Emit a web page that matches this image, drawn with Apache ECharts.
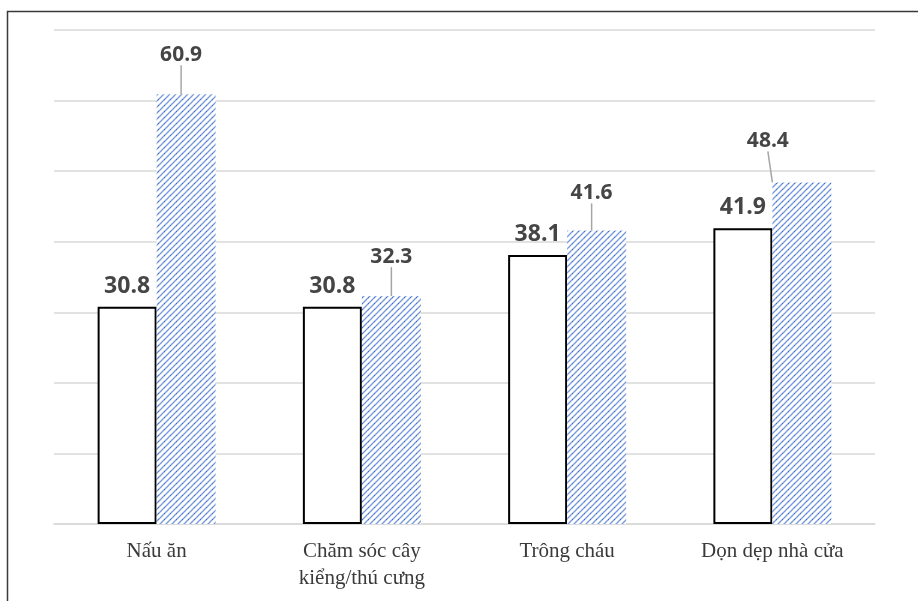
<!DOCTYPE html>
<html>
<head>
<meta charset="utf-8">
<script src="https://cdn.jsdelivr.net/npm/echarts@6/dist/echarts.min.js"></script>
<style>
    html, body { margin: 0; padding: 0; background: #fff; }
    #chart { width: 918px; height: 601px; }
</style>
</head>
<body>
<div id="chart"></div>
<script>
// du lieu
const categories = ['Nấu ăn', 'Chăm sóc cây\nkiểng/thú cưng', 'Trông cháu', 'Dọn dẹp nhà cửa']
const plainValues = [30.8, 30.8, 38.1, 41.9]
const hatchValues = [60.9, 32.3, 41.6, 48.4]

// vi tri nhan bi day ra khoi cot (giong Excel)
const hatchLabelDx = [-5, 0, -5, -34]
const hatchLabelDy = [-24, -24, -22, -26]

// tao mau gach cheo (net cham nhe)
function makeHatch() {
    const c = document.createElement('canvas')
    c.width = 6
    c.height = 6
    const ctx = c.getContext('2d')
    ctx.fillStyle = '#ffffff'
    ctx.fillRect(0, 0, 6, 6)
    ctx.strokeStyle = '#7599da'
    ctx.lineWidth = 1.3
    ctx.beginPath()
    ctx.moveTo(-1, 7)
    ctx.lineTo(7, -1)
    ctx.moveTo(-1, 1)
    ctx.lineTo(1, -1)
    ctx.moveTo(5, 7)
    ctx.lineTo(7, 5)
    ctx.stroke()
    // vai cham dam hon
    ctx.fillStyle = '#3f6fc6'
    ctx.fillRect(2, 3, 1, 1)
    return c
}

const chart = echarts.init(document.getElementById('chart'))
chart.setOption({
    animation: false,
    grid: {
        left: 54,
        right: 43,
        top: 30,
        bottom: 77
    },
    graphic: [{
        type: 'polyline',
        shape: {
            points: [[7.5, 601], [7.5, 11.5], [918, 11.5]]
        },
        style: {
            fill: null,
            stroke: '#3a3a3a',
            lineWidth: 1.5
        }
    }],
    xAxis: {
        type: 'category',
        data: categories,
        axisTick: { show: false },
        axisLine: {
            lineStyle: { color: '#d9d9d9', width: 1.5 }
        },
        axisLabel: {
            margin: 14,
            fontFamily: 'Liberation Serif',
            fontSize: 21,
            lineHeight: 27,
            color: '#3a3a3a',
            interval: 0
        }
    },
    yAxis: {
        type: 'value',
        min: 0,
        max: 70,
        interval: 10,
        axisLabel: { show: false },
        axisTick: { show: false },
        axisLine: { show: false },
        splitLine: {
            lineStyle: { color: '#d9d9d9', width: 1.5 }
        }
    },
    series: [{
        type: 'bar',
        data: plainValues,
        barWidth: 59,
        barGap: '0%',
        itemStyle: {
            color: '#ffffff',
            borderColor: '#000000',
            borderWidth: 2
        },
        label: {
            show: true,
            position: 'top',
            distance: 9,
            fontFamily: 'Open Sans',
            fontWeight: 'bold',
            fontSize: 23,
            color: '#454545'
        }
    }, {
        type: 'bar',
        data: hatchValues,
        barWidth: 59,
        barGap: '0%',
        itemStyle: {
            color: { image: makeHatch(), repeat: 'repeat' }
        },
        label: {
            show: true,
            position: 'top',
            distance: 5,
            fontFamily: 'Open Sans',
            fontWeight: 'bold',
            fontSize: 21,
            color: '#454545'
        },
        labelLine: {
            show: true,
            lineStyle: { color: '#a6a6a6', width: 1.5 }
        },
        labelLayout: function (params) {
            return {
                dx: hatchLabelDx[params.dataIndex],
                dy: hatchLabelDy[params.dataIndex]
            }
        }
    }]
})
</script>
</body>
</html>
